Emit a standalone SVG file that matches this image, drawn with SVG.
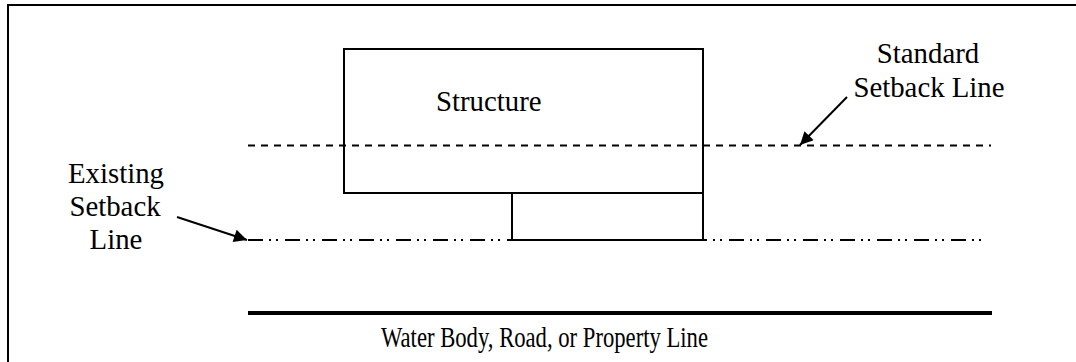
<svg xmlns="http://www.w3.org/2000/svg" width="1076" height="362" viewBox="0 0 1076 362">
  <style>
    .lbl { font-family: "Liberation Serif", "Times New Roman", serif; font-size: 28.8px; fill: #000; }
    .box { fill: none; stroke: #000; stroke-width: 2; }
    .std { fill: none; stroke: #000; stroke-width: 1.8; stroke-dasharray: 7 6; }
    .exist { fill: none; stroke: #000; stroke-width: 1.8; stroke-dasharray: 15 6 2 5 2 7; }
    .arrow { fill: none; stroke: #000; stroke-width: 2; marker-end: url(#ah); }
  </style>
  <defs>
    <marker id="ah" viewBox="0 0 10 10" refX="10" refY="5" markerWidth="8" markerHeight="6.5" markerUnits="strokeWidth" orient="auto">
      <path d="M0,0 L10,5 L0,10 z" fill="#000"/>
    </marker>
  </defs>
  <rect width="1076" height="362" fill="#fff"/>
  <g id="frame">
    <path d="M8,362 L8,5 L1076,5" fill="none" stroke="#000" stroke-width="2"/>
  </g>
  <g id="structure">
    <rect class="box" x="344" y="49" width="359" height="144"/>
    <text class="lbl" x="436" y="111">Structure</text>
  </g>
  <g id="annex">
    <path class="box" d="M512,193 L512,240 L703,240 L703,193"/>
  </g>
  <g id="standard-setback">
    <line class="std" x1="248" y1="145.5" x2="991" y2="145.5"/>
    <text class="lbl" x="928" y="63" text-anchor="middle">Standard</text>
    <text class="lbl" x="929" y="97" text-anchor="middle">Setback Line</text>
  </g>
  <g id="existing-setback">
    <line class="exist" x1="248" y1="240" x2="987" y2="240"/>
    <text class="lbl" x="116" y="183" text-anchor="middle">Existing</text>
    <text class="lbl" x="115" y="216" text-anchor="middle">Setback</text>
    <text class="lbl" x="116" y="249" text-anchor="middle">Line</text>
  </g>
  <g id="boundary">
    <line x1="248" y1="313" x2="992" y2="313" stroke="#000" stroke-width="4"/>
    <text class="lbl" x="381" y="347" textLength="327" lengthAdjust="spacingAndGlyphs">Water Body, Road, or Property Line</text>
  </g>
  <g id="connectors">
    <line class="arrow" x1="177" y1="217" x2="247" y2="240"/>
    <line class="arrow" x1="847" y1="97" x2="800" y2="145"/>
  </g>
</svg>
